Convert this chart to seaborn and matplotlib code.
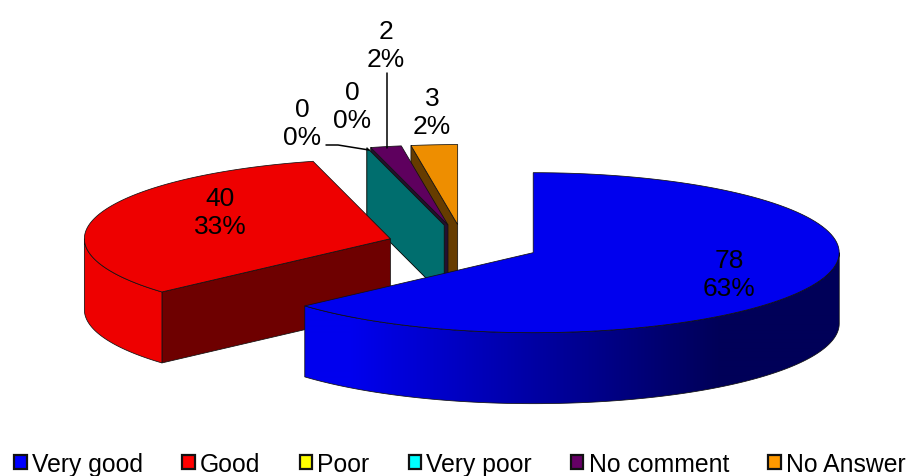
import numpy as np
import matplotlib.pyplot as plt
from matplotlib.patches import Patch, Polygon
from matplotlib.colors import ListedColormap
import seaborn as sns

categories = ["Very good", "Good", "Poor", "Very poor", "No comment", "No Answer"]
values = [78, 40, 0, 0, 2, 3]

legend_colors = ["#0000ff", "#ff0000", "#ffff00", "#00ffff", "#660066", "#ff9900"]
top_colors = ["#0000ee", "#ee0000", "#eeee00", "#00eeee", "#5e005e", "#ee8e00"]
cut_colors = ["#000066", "#6e0000", "#6e6e00", "#006e6e", "#241030", "#663c00"]

# centre of the label text for each slice, in pixels
label_pos = [(729, 275), (220, 213), (302, 124), (352, 107), (386, 46), (432, 113)]

# pie geometry in pixels
CX, CY = 463.5, 245.5
RX, RY = 306, 80
EXPLODE = 76.4
DEPTH = 71

sns.set_theme(style="white")
plt.rcParams["font.family"] = ["Liberation Sans", "DejaVu Sans"]

fig = plt.figure(figsize=(9.11, 4.77), dpi=100)
ax = fig.add_axes([0, 0, 1, 1])

total = sum(values)
fractions = np.array(values) / total * 360
ends = np.cumsum(fractions)
starts = ends - fractions


def rim(cx, cy, a0, a1, n=120):
    t = np.radians(np.linspace(a0, a1, n))
    return np.column_stack([cx + RX * np.sin(t), cy - RY * np.cos(t)])


def centre(a0, a1):
    mid = np.radians((a0 + a1) / 2)
    return CX + EXPLODE * np.sin(mid), CY - EXPLODE * RY / RX * np.cos(mid)


def add(points, face, z, edge="#111111", lw=0.55):
    p = Polygon(points, closed=True, facecolor=face, edgecolor=edge, linewidth=lw, zorder=z)
    ax.add_patch(p)
    return p


def cut_face(cx, cy, angle, color, z):
    # flat side of a slice at its starting angle
    p = rim(cx, cy, angle, angle, 1)[0]
    add([(cx, cy), p, (p[0], p[1] + DEPTH), (cx, cy + DEPTH)], color, z)


def outer_side(cx, cy, a0, a1, z, shade=None, color=None):
    # front part of the curved wall, 90 to 270 degrees clockwise from the top
    lo, hi = max(a0, 90), min(a1, 270)
    if hi <= lo:
        return
    pts = rim(cx, cy, lo, hi)
    wall = np.vstack([pts, (pts + [0, DEPTH])[::-1]])
    if shade is None:
        add(wall, color, z)
        return
    outline = add(wall, "none", z + 0.1)
    # horizontal gradient clipped to the wall
    grad = np.clip((np.arange(290, 860) - 350) / 370, 0, 1)[None, :]
    im = ax.imshow(grad, cmap=ListedColormap(shade), extent=(290, 860, 420, 230),
                   aspect="auto", interpolation="bilinear", zorder=z)
    im.set_clip_path(outline)


blue_shade = sns.blend_palette(["#0000ee", "#000058"], 256)

# back slices first, the big ones cover them
draw_order = [5, 4, 2, 3, 1, 0]
for z, i in enumerate(draw_order, start=1):
    cx, cy = centre(starts[i], ends[i])
    if starts[i] > 90:
        cut_face(cx, cy, starts[i], cut_colors[i], z)
    if i == 0:
        outer_side(cx, cy, starts[i], ends[i], z, shade=blue_shade)
    else:
        outer_side(cx, cy, starts[i], ends[i], z, color=top_colors[i])
    if values[i] > 0:
        add(np.vstack([[(cx, cy)], rim(cx, cy, starts[i], ends[i])]), top_colors[i], z + 0.2)

ax.set_xlim(0, 911)
ax.set_ylim(477, 0)
ax.axis("off")

# leader lines for the small slices
ax.plot([326, 338, 369], [146, 146, 151], color="black", lw=1.1, zorder=8)
ax.plot([387, 387], [74, 149], color="black", lw=1.1, zorder=8)

for v, (x, y) in zip(values, label_pos):
    ax.text(x, y, f"{v}\n{round(100 * v / total)}%", ha="center", va="center",
            fontsize=19, color="black", linespacing=1.25, zorder=9)

handles = [Patch(facecolor=c, edgecolor="#111111", linewidth=1.6) for c in legend_colors]
ax.legend(handles, categories, loc="lower center", bbox_to_anchor=(0.505, 0.0), ncol=6,
          frameon=False, fontsize=17.8, handlelength=0.5, handleheight=0.5, labelcolor="black",
          handletextpad=0.22, columnspacing=1.58, borderpad=0, borderaxespad=0)

plt.savefig("out.png", dpi=100)
plt.close()
